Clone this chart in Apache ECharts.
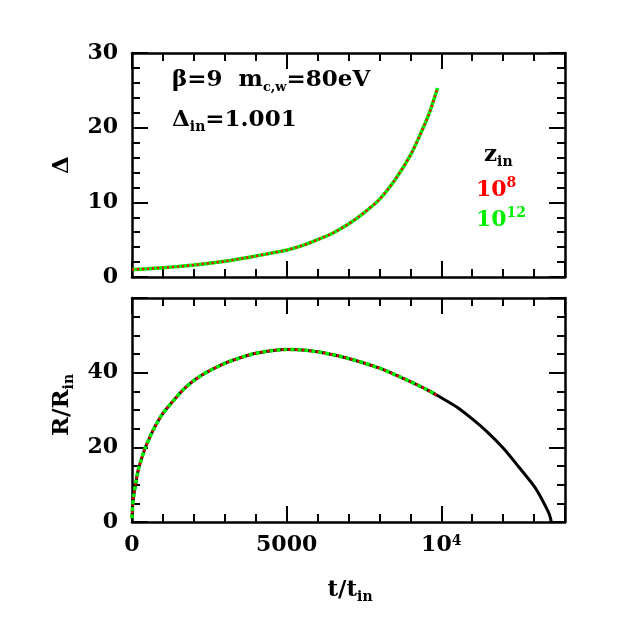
<!DOCTYPE html>
<html>
<head>
<meta charset="utf-8">
<script src="https://cdn.jsdelivr.net/npm/echarts@6/dist/echarts.min.js"></script>
<style>
  html, body { margin: 0; padding: 0; background: #fff; }
  #chart { width: 617px; height: 617px; }
</style>
</head>
<body>
<div id="chart"></div>
<script>
// top panel: Delta(t), both z_in curves lie on top of each other
var tDelta   = [0, 500, 1000, 1500, 2000, 2500, 3000, 3500, 4000, 4500, 5000, 5500, 6000, 6500, 7000, 7500, 8000, 8500, 9000, 9300, 9600, 9880];
var deltaZ8  = [1.0, 1.1, 1.25, 1.4, 1.6, 1.85, 2.1, 2.45, 2.8, 3.2, 3.6, 4.2, 5.0, 5.9, 7.1, 8.6, 10.4, 13.0, 16.3, 18.9, 21.8, 25.3];
var deltaZ12 = [1.0, 1.1, 1.25, 1.4, 1.6, 1.85, 2.1, 2.45, 2.8, 3.2, 3.6, 4.2, 5.0, 5.9, 7.1, 8.6, 10.4, 13.0, 16.3, 18.9, 21.8, 25.3];

// bottom panel: R/R_in(t)
var tR    = [0, 20, 60, 120, 200, 300, 420, 560, 740, 1000, 1400, 1700, 2000, 2250, 2500, 3000, 3500, 4000, 4500, 5000, 5500, 6000, 6500, 7000, 7500, 8000, 8500, 9000, 9500, 9850];
var rZ8   = [1, 4.3, 7.3, 10.3, 13.9, 16.7, 19.7, 22.4, 25.5, 29.1, 33.1, 35.8, 37.9, 39.3, 40.5, 42.5, 44.0, 45.2, 45.9, 46.2, 46.1, 45.6, 44.8, 43.8, 42.6, 41.2, 39.5, 37.6, 35.6, 34.0];
var rZ12  = [1, 4.3, 7.3, 10.3, 13.9, 16.7, 19.7, 22.4, 25.5, 29.1, 33.1, 35.8, 37.9, 39.3, 40.5, 42.5, 44.0, 45.2, 45.9, 46.2, 46.1, 45.6, 44.8, 43.8, 42.6, 41.2, 39.5, 37.6, 35.6, 34.0];
// black reference curve, runs until collapse
var tBlack = [0, 20, 60, 120, 200, 300, 420, 560, 740, 1000, 1400, 1700, 2000, 2250, 2500, 3000, 3500, 4000, 4500, 5000, 5500, 6000, 6500, 7000, 7500, 8000, 8500, 9000, 9500, 9850, 10000, 10500, 11000, 11500, 12000, 12500, 13000, 13200, 13400, 13500, 13560];
var rBlack = [1, 4.3, 7.3, 10.3, 13.9, 16.7, 19.7, 22.4, 25.5, 29.1, 33.1, 35.8, 37.9, 39.3, 40.5, 42.5, 44.0, 45.2, 45.9, 46.2, 46.1, 45.6, 44.8, 43.8, 42.6, 41.2, 39.5, 37.6, 35.6, 34.0, 33.3, 30.8, 27.6, 24.0, 19.8, 14.8, 9.6, 6.9, 3.7, 1.9, 0];

var xTickLabels = { 0: '0', 5000: '5000', 10000: '{a|10}{p|4}' };

var FONT = 'DejaVu Serif';
var BLACK = '#000';
var RED = '#ff0000';
var GREEN = '#00ee00';

function pairs(xs, ys) {
	var res = [];
	for (var i = 0; i < xs.length; i++) res.push([xs[i], ys[i]]);
	return res;
}

var lineStyle = { color: BLACK, width: 2 };
var labelBase = { color: BLACK, fontFamily: FONT, fontWeight: 'bold', fontSize: 22 };

var xAxes = [], yAxes = [];

// 4 x axes per grid: bottom minor, bottom major, top minor, top major
function addXAxes(grid, withLabels) {
	['bottom', 'top'].forEach(function (pos) {
		xAxes.push({
			type: 'value', gridIndex: grid, position: pos,
			min: 0, max: 14000, interval: 1000,
			axisLine: { show: true, onZero: false, lineStyle: { color: BLACK, width: 2.5 } },
			axisTick: { show: true, inside: true, length: 8, lineStyle: lineStyle },
			axisLabel: { show: false },
			splitLine: { show: false }
		});
		xAxes.push({
			type: 'value', gridIndex: grid, position: pos,
			min: 0, max: 14000, interval: 5000,
			axisLine: { show: false, onZero: false },
			axisTick: { show: true, inside: true, length: 16, lineStyle: lineStyle },
			axisLabel: {
				show: withLabels && pos == 'bottom', margin: 12,
				color: BLACK, fontFamily: FONT, fontWeight: 'bold', fontSize: 22,
				formatter: function (v) { return xTickLabels[v] || ''; },
				rich: {
					a: labelBase,
					p: { color: BLACK, fontFamily: FONT, fontWeight: 'bold', fontSize: 14, verticalAlign: 'top', lineHeight: 14 }
				}
			},
			splitLine: { show: false }
		});
	});
}

// 2 y axes per grid: left with labels, right mirror
function addYAxes(grid, max, interval, minorSplit, labels) {
	['left', 'right'].forEach(function (pos) {
		yAxes.push({
			type: 'value', gridIndex: grid, position: pos,
			min: 0, max: max, interval: interval,
			axisLine: { show: true, onZero: false, lineStyle: { color: BLACK, width: 2.5 } },
			axisTick: { show: true, inside: true, length: 16, lineStyle: lineStyle },
			minorTick: { show: true, splitNumber: minorSplit, length: 8, lineStyle: lineStyle },
			axisLabel: {
				show: pos == 'left', margin: 14,
				color: BLACK, fontFamily: FONT, fontWeight: 'bold', fontSize: 22,
				formatter: function (v) { return labels.indexOf(v) >= 0 ? String(v) : ''; }
			},
			splitLine: { show: false }
		});
	});
}

addXAxes(0, false);   // x 0..3
addXAxes(1, true);    // x 4..7
addYAxes(0, 30, 10, 5, [0, 10, 20, 30]);  // y 0,1
addYAxes(1, 60, 20, 4, [0, 20, 40]);      // y 2,3

var richBase = { fill: BLACK, fontFamily: FONT, fontWeight: 'bold', fontSize: 23, lineHeight: 28 };
function sub(size, color) {
	return { fill: color || BLACK, fontFamily: FONT, fontWeight: 'bold', fontSize: size, lineHeight: size, verticalAlign: 'bottom' };
}
function sup(size, color) {
	return { fill: color || BLACK, fontFamily: FONT, fontWeight: 'bold', fontSize: size, lineHeight: size, verticalAlign: 'top' };
}

var chart = echarts.init(document.getElementById('chart'));
chart.setOption({
	animation: false,
	backgroundColor: '#fff',
	grid: [
		{ left: 132, top: 53, width: 433, height: 224 },
		{ left: 132, top: 298, width: 433, height: 224 }
	],
	xAxis: xAxes,
	yAxis: yAxes,
	graphic: [
		{	// parameters
			type: 'text', x: 172, y: 80,
			style: {
				text: '{n|β=9  m}{s|c,w}{n|=80eV}', align: 'left', verticalAlign: 'middle',
				rich: { n: richBase, s: sub(13) }
			}
		},
		{
			type: 'text', x: 172, y: 120,
			style: {
				text: '{n|Δ}{s|in}{n|=1.001}', align: 'left', verticalAlign: 'middle',
				rich: { n: richBase, s: sub(14) }
			}
		},
		{	// legend
			type: 'text', x: 484, y: 155,
			style: {
				text: '{n|z}{s|in}', align: 'left', verticalAlign: 'middle',
				rich: { n: richBase, s: sub(14) }
			}
		},
		{
			type: 'text', x: 476, y: 190,
			style: {
				text: '{n|10}{p|8}', align: 'left', verticalAlign: 'middle',
				rich: { n: Object.assign({}, richBase, { fill: RED, fontSize: 22 }), p: sup(14, RED) }
			}
		},
		{
			type: 'text', x: 476, y: 220,
			style: {
				text: '{n|10}{p|12}', align: 'left', verticalAlign: 'middle',
				rich: { n: Object.assign({}, richBase, { fill: GREEN, fontSize: 22 }), p: sup(14, GREEN) }
			}
		},
		{	// axis titles
			type: 'text', x: 62, y: 165, rotation: Math.PI / 2,
			style: { text: 'Δ', align: 'center', verticalAlign: 'middle', fill: BLACK, fontFamily: FONT, fontWeight: 'bold', fontSize: 23 }
		},
		{
			type: 'text', x: 62, y: 405, rotation: Math.PI / 2,
			style: {
				text: '{n|R/R}{s|in}', align: 'center', verticalAlign: 'middle',
				rich: { n: richBase, s: sub(14) }
			}
		},
		{
			type: 'text', x: 350, y: 590,
			style: {
				text: '{n|t/t}{s|in}', align: 'center', verticalAlign: 'middle',
				rich: { n: richBase, s: sub(14) }
			}
		}
	],
	series: [
		{	// top: z_in = 1e12 (green, solid)
			type: 'line', xAxisIndex: 0, yAxisIndex: 0,
			data: pairs(tDelta, deltaZ12), showSymbol: false, smooth: 0.25,
			lineStyle: { color: GREEN, width: 3.5 }, z: 3
		},
		{	// top: z_in = 1e8 (red, dotted)
			type: 'line', xAxisIndex: 0, yAxisIndex: 0,
			data: pairs(tDelta, deltaZ8), showSymbol: false, smooth: 0.25,
			lineStyle: { color: RED, width: 2.5, type: [2, 3] }, z: 4
		},
		{	// bottom: black curve
			type: 'line', xAxisIndex: 4, yAxisIndex: 2,
			data: pairs(tBlack, rBlack), showSymbol: false, smooth: 0.25,
			lineStyle: { color: BLACK, width: 3 }, z: 2
		},
		{	// bottom: green dashed
			type: 'line', xAxisIndex: 4, yAxisIndex: 2,
			data: pairs(tR, rZ12), showSymbol: false, smooth: 0.25,
			lineStyle: { color: GREEN, width: 3.5, type: [4, 3] }, z: 3
		},
		{	// bottom: red dotted
			type: 'line', xAxisIndex: 4, yAxisIndex: 2,
			data: pairs(tR, rZ8), showSymbol: false, smooth: 0.25,
			lineStyle: { color: RED, width: 2.5, type: [2, 5], dashOffset: 2 }, z: 4
		}
	]
});
</script>
</body>
</html>
